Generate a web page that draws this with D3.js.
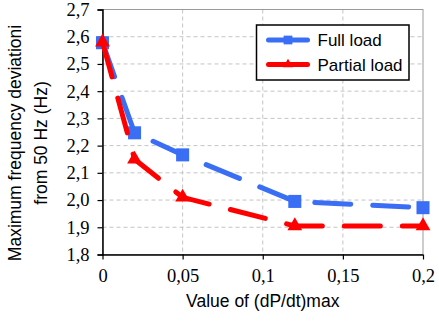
<!DOCTYPE html>
<html>
<head>
<meta charset="utf-8">
<script src="https://cdn.jsdelivr.net/npm/d3@7"></script>
<style>
  body { margin: 0; background: #fff; }
  svg { display: block; }
</style>
</head>
<body>
<svg id="chart" width="439" height="324"></svg>
<script>
// ---------------- data ----------------
const xValues = [0, 0.02, 0.05, 0.12, 0.2];
const fullLoad = [2.578, 2.247, 2.166, 1.995, 1.972];
const partialLoad = [2.58, 2.15, 2.01, 1.905, 1.905];
const xTicks = [0, 0.05, 0.1, 0.15, 0.2];
const yTicks = [1.8, 1.9, 2.0, 2.1, 2.2, 2.3, 2.4, 2.5, 2.6, 2.7];
const seriesNames = ["Full load", "Partial load"];

const svg = d3.select("#chart");
const margin = { top: 9.5, right: 16, bottom: 69.5, left: 102.5 };
const width = +svg.attr("width");
const height = +svg.attr("height");
const innerWidth = width - margin.left - margin.right;
const innerHeight = height - margin.top - margin.bottom;

const g = svg.append("g")
  .attr("transform", `translate(${margin.left}, ${margin.top})`);

const x = d3.scaleLinear().domain([0, 0.2]).range([0, innerWidth]);
const y = d3.scaleLinear().domain([1.8, 2.7]).range([innerHeight, 0]);

// decimal comma
const fmtX = d => String(+d.toFixed(2)).replace(".", ",");
const fmtY = d => d.toFixed(1).replace(".", ",");

// grid
g.append("g")
  .selectAll("line")
  .data(yTicks.slice(1, -1))
  .join("line")
  .attr("x1", 0).attr("x2", innerWidth)
  .attr("y1", d => y(d)).attr("y2", d => y(d))
  .attr("stroke", "#c4c4c4")
  .attr("stroke-dasharray", "4,3");

g.append("g")
  .selectAll("line")
  .data(xTicks.slice(1, -1))
  .join("line")
  .attr("y1", 0).attr("y2", innerHeight)
  .attr("x1", d => x(d)).attr("x2", d => x(d))
  .attr("stroke", "#c4c4c4")
  .attr("stroke-dasharray", "4,3");

// plot frame (top/right)
g.append("rect")
  .attr("width", innerWidth).attr("height", innerHeight)
  .attr("fill", "none")
  .attr("stroke", "#9a9a9a");

// axes
const yAxis = g.append("g")
  .call(d3.axisLeft(y).tickValues(yTicks).tickFormat(fmtY).tickSize(5).tickPadding(8));
const xAxis = g.append("g")
  .attr("transform", `translate(0, ${innerHeight})`)
  .call(d3.axisBottom(x).tickValues(xTicks).tickFormat(fmtX).tickSize(5).tickPadding(9));

[yAxis, xAxis].forEach(a => {
  a.attr("font-family", "Liberation Serif").attr("font-size", 18.5);
  a.select(".domain").attr("stroke", "#000").attr("stroke-width", 1.5);
  a.selectAll(".tick line").attr("stroke", "#000").attr("stroke-width", 1.2);
  a.selectAll("text")
    .style("font-family", "'Liberation Serif', serif")
    .style("font-size", "18.5px")
    .attr("fill", "#000");
});
xAxis.select(".domain").attr("d", `M0,0.5H${innerWidth}`);

// lines
const line = d3.line()
  .x(d => x(d[0]))
  .y(d => y(d[1]));

const series = [
  { name: seriesNames[0], values: fullLoad, color: "#3a6ff5", symbol: d3.symbolSquare, size: 170 },
  { name: seriesNames[1], values: partialLoad, color: "#ff0000", symbol: d3.symbolTriangle, size: 95 }
];

series.forEach(s => {
  const pts = xValues.map((xv, i) => [xv, s.values[i]]);
  g.append("path")
    .datum(pts)
    .attr("d", line)
    .attr("fill", "none")
    .attr("stroke", s.color)
    .attr("stroke-width", 5)
    .attr("stroke-linecap", "round")
    .attr("stroke-dasharray", "36,22");

  g.append("g")
    .selectAll("path")
    .data(pts)
    .join("path")
    .attr("transform", d => `translate(${x(d[0])}, ${y(d[1])})`)
    .attr("d", d3.symbol().type(s.symbol).size(s.size))
    .attr("fill", s.color);
});

// legend
const legend = svg.append("g").attr("transform", "translate(256.5, 25)");
legend.append("rect")
  .attr("width", 152.5).attr("height", 55)
  .attr("fill", "#fff")
  .attr("stroke", "#000")
  .attr("stroke-width", 1.5);

series.forEach((s, i) => {
  const row = legend.append("g").attr("transform", `translate(0, ${15 + i * 24.5})`);
  row.append("line")
    .attr("x1", 12).attr("x2", 51)
    .attr("stroke", s.color)
    .attr("stroke-width", 5)
    .attr("stroke-linecap", "round");
  row.append("path")
    .attr("transform", "translate(31.5, 0)")
    .attr("d", d3.symbol().type(s.symbol).size(s.size * 0.45))
    .attr("fill", s.color);
  row.append("text")
    .attr("x", 61).attr("y", 6)
    .attr("font-family", "'Liberation Sans', Arial, sans-serif")
    .attr("font-size", 17)
    .text(s.name);
});

// axis titles
svg.append("text")
  .attr("x", margin.left + innerWidth / 2)
  .attr("y", 307)
  .attr("text-anchor", "middle")
  .attr("font-family", "'Liberation Sans', Arial, sans-serif")
  .attr("font-size", 17.5)
  .text("Value of (dP/dt)max");

const yTitle = svg.append("text")
  .attr("transform", "translate(0, 143) rotate(-90)")
  .attr("text-anchor", "middle")
  .attr("font-family", "'Liberation Sans', Arial, sans-serif")
  .attr("font-size", 17.5);
yTitle.append("tspan").attr("x", 0).attr("y", 21).text("Maximum frequency deviationi");
yTitle.append("tspan").attr("x", 0).attr("y", 47).text("from 50 Hz (Hz)");
</script>
</body>
</html>
